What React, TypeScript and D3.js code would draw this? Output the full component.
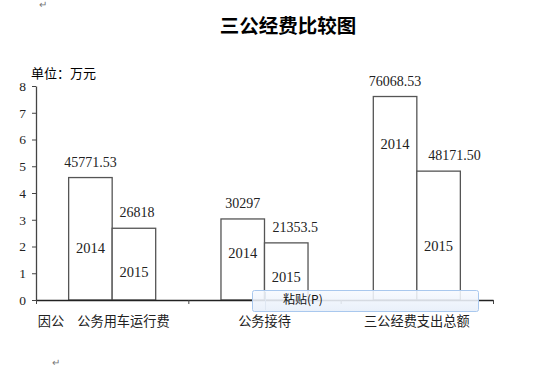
import React, { useEffect, useRef } from "react";
import * as d3 from "d3";

const categories = ["因公　公务用车运行费", "公务接待", "三公经费支出总额"];
const years = ["2014", "2015"];
const values2014 = [45771.53, 30297, 76068.53];
const values2015 = [26818, 21353.5, 48171.5];
const labels2014 = ["45771.53", "30297", "76068.53"];
const labels2015 = ["26818", "21353.5", "48171.50"];
const yTicks = [0, 1, 2, 3, 4, 5, 6, 7, 8];

// where the year captions sit inside the bars (axis units)
const yearPos2014 = [1.9, 1.68, 5.76];
const yearPos2015 = [1.0, 0.81, 1.94];
// the 2015 value captions are nudged right in the original (px)
const nudge2015 = [3, 9, 16];

const W = 553, H = 368;
const serif = "'Liberation Serif', 'DejaVu Serif', serif";
const cjk = "'Noto Sans CJK SC', 'Noto Sans', sans-serif";

const App = () => {
    const ref = useRef(null);

    useEffect(() => {
        const svg = d3.select(ref.current);
        svg.selectAll("*").remove();

        const x = d3.scaleBand().domain(categories).range([36, 493]).paddingInner(0).paddingOuter(0);
        const xs = d3.scaleBand().domain(years).range([0, x.bandwidth()]).paddingInner(0).paddingOuter(0.75);
        const xb = d3.scaleLinear().domain([0, categories.length]).range([36, 493]);
        const y = d3.scaleLinear().domain([0, 8]).range([300, 86]);

        svg.append("text")
            .attr("x", 288).attr("y", 28)
            .attr("text-anchor", "middle").attr("dominant-baseline", "middle")
            .attr("font-family", cjk).attr("font-weight", "bold").attr("font-size", 19.5)
            .text("三公经费比较图");

        svg.append("text")
            .attr("x", 31).attr("y", 74)
            .attr("dominant-baseline", "middle")
            .attr("font-family", cjk).attr("font-size", 13)
            .text("单位：万元");

        // bars
        const rows = categories.map((c, i) => ({
            c,
            bars: [
                { year: years[0], v: values2014[i] / 10000, label: labels2014[i], pos: yearPos2014[i], dx: 0 },
                { year: years[1], v: values2015[i] / 10000, label: labels2015[i], pos: yearPos2015[i], dx: nudge2015[i] },
            ],
        }));

        const g = svg.append("g").selectAll("g").data(rows).enter().append("g")
            .attr("transform", d => `translate(${x(d.c)},0)`);

        const b = g.selectAll("g").data(d => d.bars).enter().append("g");
        b.append("rect")
            .attr("x", d => xs(d.year))
            .attr("y", d => y(d.v))
            .attr("width", xs.bandwidth())
            .attr("height", d => y(0) - y(d.v))
            .attr("fill", "#fff").attr("stroke", "#555").attr("stroke-width", 1.3);
        b.append("text")
            .attr("x", d => xs(d.year) + xs.bandwidth() / 2 + d.dx)
            .attr("y", d => y(d.v) - 14)
            .attr("text-anchor", "middle").attr("dominant-baseline", "middle")
            .attr("font-family", serif).attr("font-size", 14).attr("fill", "#222")
            .text(d => d.label);
        b.append("text")
            .attr("x", d => xs(d.year) + xs.bandwidth() / 2)
            .attr("y", d => y(d.pos))
            .attr("text-anchor", "middle").attr("dominant-baseline", "middle")
            .attr("font-family", serif).attr("font-size", 14.5).attr("fill", "#222")
            .text(d => d.year);

        // axes
        const ya = svg.append("g").attr("transform", "translate(36,0)")
            .call(d3.axisLeft(y).tickValues(yTicks).tickSize(4).tickSizeOuter(0).tickPadding(6));
        ya.select(".domain").attr("stroke", "#444").attr("stroke-width", 1.3);
        ya.selectAll("line").attr("stroke", "#444");
        ya.selectAll("text").attr("font-family", serif).attr("font-size", 13.5).attr("fill", "#222");

        const xa = svg.append("g").attr("transform", "translate(0,300)")
            .call(d3.axisBottom(xb).tickValues(d3.range(categories.length + 1)).tickFormat(() => "").tickSize(4).tickSizeOuter(0));
        xa.select(".domain").attr("stroke", "#222").attr("stroke-width", 1.3);
        xa.selectAll("line").attr("stroke", "#444");

        svg.append("g").selectAll("text").data(categories).enter().append("text")
            .attr("x", d => x(d) + x.bandwidth() / 2 - (d.length > 8 ? 8.5 : 0))
            .attr("y", 322)
            .attr("text-anchor", "middle").attr("dominant-baseline", "middle")
            .attr("font-family", cjk).attr("font-size", 13.2).attr("fill", "#222")
            .text(d => d);

        // paste popup overlay
        const grad = svg.append("defs").append("linearGradient").attr("id", "pop")
            .attr("x1", 0).attr("y1", 0).attr("x2", 0).attr("y2", 1);
        grad.append("stop").attr("offset", "0%").attr("stop-color", "#f7faff");
        grad.append("stop").attr("offset", "100%").attr("stop-color", "#e6eef9");
        svg.append("rect")
            .attr("x", 252.5).attr("y", 290.5).attr("width", 226).attr("height", 21).attr("rx", 2)
            .attr("fill", "url(#pop)").attr("fill-opacity", 0.88)
            .attr("stroke", "#a9c8ee");
        svg.append("line")
            .attr("x1", 265.5).attr("x2", 265.5).attr("y1", 292).attr("y2", 310)
            .attr("stroke", "#dfe7f2");
        svg.append("text")
            .attr("x", 283).attr("y", 301)
            .attr("dominant-baseline", "middle")
            .attr("font-family", cjk).attr("font-size", 12).attr("fill", "#111")
            .text("粘贴(P)");

        // paragraph marks
        svg.append("text").attr("x", 39).attr("y", 8).attr("font-size", 10).attr("fill", "#777").text("↵");
        svg.append("text").attr("x", 52).attr("y", 366).attr("font-size", 10).attr("fill", "#777").text("↵");
    }, []);

    return <svg ref={ref} width={W} height={H} style={{ position: "absolute", left: 0, top: 0, background: "#fff" }}></svg>;
};

export default App;
